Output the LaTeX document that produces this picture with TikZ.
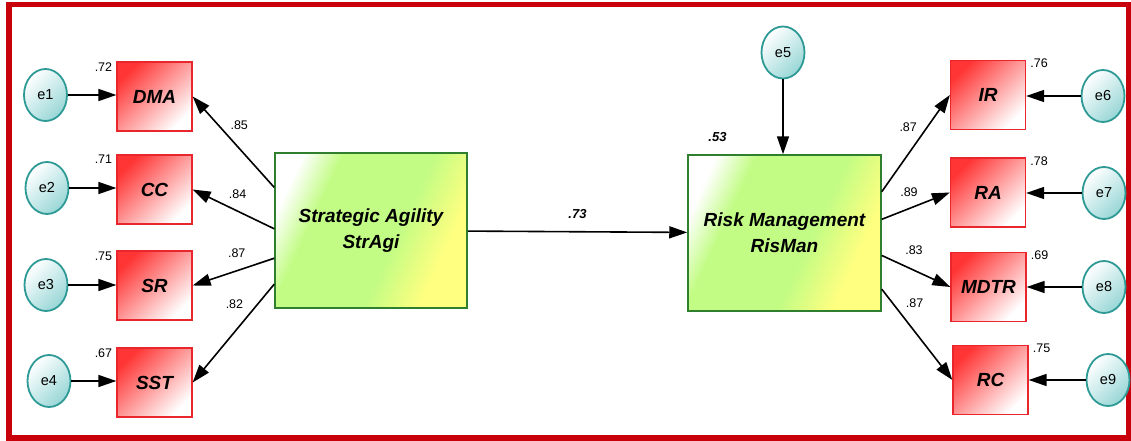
\documentclass[tikz,border=0pt]{standalone}
\usepackage{fontspec}
\setmainfont{Liberation Sans}
\usetikzlibrary{arrows.meta, positioning, shapes.geometric}

\definecolor{framered}{HTML}{C8000A}
\definecolor{obsred}{HTML}{FF3535}
\definecolor{obsline}{HTML}{E8262B}
\definecolor{latgreen}{HTML}{C2FC84}
\definecolor{latyellow}{HTML}{FFFF80}
\definecolor{latline}{HTML}{2F7F2F}
\definecolor{errfill}{HTML}{98D6D6}
\definecolor{errline}{HTML}{2E9A96}

\pgfdeclarehorizontalshading{latentshade}{100bp}{color(0bp)=(white); color(24bp)=(white); color(34bp)=(latgreen); color(57bp)=(latgreen); color(71bp)=(latyellow); color(100bp)=(latyellow)}

\begin{document}
\begin{tikzpicture}[
        x=1pt, y=-1pt,
        >={Triangle[length=18pt, width=12pt]},
        obs/.style={rectangle, draw=obsline, line width=1.3pt, minimum width=75pt, minimum height=69pt,
            top color=obsred, bottom color=white, shading angle=45,
            font=\bfseries\itshape\fontsize{19}{19}\selectfont},
        lat/.style={rectangle, draw=latline, line width=1.5pt, minimum width=192pt, minimum height=155pt,
            shading=latentshade, shading angle=-25, align=center,
            font=\bfseries\itshape\fontsize{19}{26}\selectfont},
        err/.style={ellipse, draw=errline, line width=1.8pt, minimum width=43pt, minimum height=52pt,
            inner sep=0pt, top color=white, bottom color=errfill, shading angle=45,
            font=\fontsize{14.5}{14.5}\selectfont},
        link/.style={->, line width=1.6pt},
        w/.style={font=\fontsize{12.5}{12.5}\selectfont, inner sep=1pt},
        wb/.style={font=\bfseries\itshape\fontsize{13}{13}\selectfont, inner sep=1pt}
    ]
        \useasboundingbox (0,0) rectangle (1131,441);
        % Rahmen
        \draw[framered, line width=5.5pt] (9,4.5) rectangle (1128.3,438);

        % Fehlerterme
        \path
            (45.5,95)  node[err] (e1) {e1}
            (47,188)   node[err] (e2) {e2}
            (46,285)   node[err] (e3) {e3}
            (49,381)   node[err] (e4) {e4}
            (783,52.5) node[err] (e5) {e5}
            (1103,96)  node[err] (e6) {e6}
            (1104,193) node[err] (e7) {e7}
            (1104,287) node[err] (e8) {e8}
            (1108,380) node[err] (e9) {e9};

        % Indikatoren
        \path
            (154.5,96.5)  node[obs] (DMA) {DMA}
            (154.5,189.5) node[obs] (CC) {CC}
            (154.5,285.5) node[obs] (SR) {SR}
            (154.5,382.5) node[obs] (SST) {SST}
            (988,95)      node[obs] (IR) {IR}
            (988,192.5)   node[obs] (RA) {RA}
            (988.5,287)   node[obs] (MDTR) {MDTR}
            (990.5,380)   node[obs] (RC) {RC};

        % Konstrukte
        \path
            (371,230.5) node[lat] (StrAgi) {Strategic Agility\\StrAgi}
            (784.5,233) node[lat, minimum width=193pt, minimum height=156pt] (RisMan) {Risk Management\\RisMan};

        % R^2 Werte
        \node[w, left=3pt of DMA.north west, yshift=-6pt] (rDMA) {.72};
        \node[w, left=3pt of CC.north west, yshift=-5pt] (rCC) {.71};
        \node[w, left=3pt of SR.north west, yshift=-6pt] (rSR) {.75};
        \node[w, left=3pt of SST.north west, yshift=-6pt] (rSST) {.67};
        \node[w, right=3pt of IR.north east, yshift=-3.5pt] (rIR) {.76};
        \node[w, right=3pt of RA.north east, yshift=-3.5pt] (rRA) {.78};
        \node[w, right=3pt of MDTR.north east, yshift=-3.5pt] (rMDTR) {.69};
        \node[w, right=3pt of RC.north east, yshift=-3.5pt] (rRC) {.75};
        \node[wb, above right=11pt and 20pt of RisMan.north west] (rRisMan) {.53};

        % Fehler -> Indikator
        \draw[link] (e1) -- (e1 -| DMA.west);
        \draw[link] (e2) -- (e2 -| CC.west);
        \draw[link] (e3) -- (e3 -| SR.west);
        \draw[link] (e4) -- (e4 -| SST.west);
        \draw[link] (e5) -- (e5 |- RisMan.north);
        \draw[link] (e6) -- (e6 -| IR.east);
        \draw[link] (e7) -- (e7 -| RA.east);
        \draw[link] (e8) -- (e8 -| MDTR.east);
        \draw[link] (e9) -- (e9 -| RC.east);

        % Ladungen
        \draw[link] (StrAgi.156) -- (DMA.east) node[pos=0.68, right=10pt, w]{.85};
        \draw[link] (StrAgi.179) -- (CC.east) node[pos=0.45, above=11pt, w]{.84};
        \draw[link] (StrAgi.196) -- (SR.east) node[pos=0.46, above=11pt, w]{.87};
        \draw[link] (StrAgi.209) -- (SST.east) node[pos=0.2, left=13pt, w]{.82};
        \draw[link] (RisMan.23) -- (IR.west) node[pos=0.667, left=8.5pt, w]{.87};
        \draw[link] (RisMan.8) -- (RA.west) node[pos=0.4, above=10.5pt, w]{.89};
        \draw[link] (RisMan.347) -- (MDTR.west) node[pos=0.47, above=14pt, w]{.83};
        \draw[link] (RisMan.330) -- (RC.west) node[pos=0.154, right=11.5pt, w]{.87};

        % Strukturpfad
        \draw[link] (StrAgi) -- (RisMan) node[midway, above=11.5pt, wb]{.73};
    \end{tikzpicture}
\end{document}
